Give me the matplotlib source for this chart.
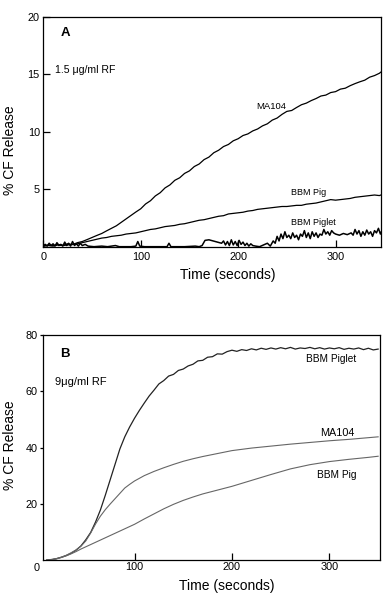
import matplotlib
matplotlib.use("Agg")

import matplotlib.pyplot as plt

plt.rcParams["font.family"] = ["Liberation Sans", "DejaVu Sans"]

# ---- panel A: 1.5 ug/ml RF ----
TIME_A = [0, 5, 10, 15, 20, 25, 30, 35, 40, 45, 50, 55, 60, 65, 70, 75, 80, 85, 90, 95,
          100, 105, 110, 115, 120, 125, 130, 135, 140, 145, 150, 155, 160, 165, 170, 175,
          180, 185, 190, 195, 200, 205, 210, 215, 220, 225, 230, 235, 240, 245, 250, 255,
          260, 265, 270, 275, 280, 285, 290, 295, 300, 305, 310, 315, 320, 325, 330, 335,
          340, 345, 348]
MA104_A = [0.05, 0.15, 0.1, 0.2, 0.12, 0.25, 0.18, 0.35, 0.45, 0.62, 0.8, 0.98, 1.15, 1.38,
           1.6, 1.82, 2.12, 2.42, 2.72, 3.02, 3.3, 3.72, 4.0, 4.42, 4.7, 5.12, 5.38, 5.78,
           6.0, 6.38, 6.6, 6.98, 7.2, 7.58, 7.8, 8.18, 8.4, 8.72, 8.9, 9.22, 9.4, 9.68, 9.82,
           10.08, 10.25, 10.52, 10.7, 11.02, 11.2, 11.52, 11.78, 11.86, 12.12, 12.36, 12.5,
           12.72, 12.9, 13.12, 13.2, 13.42, 13.5, 13.72, 13.8, 14.02, 14.2, 14.36, 14.5,
           14.76, 14.9, 15.1, 15.3]
PIG_A = [0.05, 0.1, 0.05, 0.15, 0.1, 0.15, 0.2, 0.25, 0.35, 0.45, 0.55, 0.65, 0.75, 0.8,
         0.9, 0.95, 1.0, 1.1, 1.15, 1.2, 1.3, 1.4, 1.5, 1.55, 1.65, 1.75, 1.8, 1.85, 1.95,
         2.0, 2.1, 2.2, 2.3, 2.35, 2.45, 2.55, 2.65, 2.7, 2.85, 2.9, 2.95, 3.0, 3.1, 3.15,
         3.25, 3.3, 3.35, 3.4, 3.45, 3.5, 3.5, 3.55, 3.6, 3.6, 3.7, 3.75, 3.8, 3.9, 4.0,
         4.1, 4.05, 4.1, 4.15, 4.2, 4.3, 4.35, 4.4, 4.45, 4.5, 4.45, 4.55]
TIME_PIGLET_A = [0, 2, 4, 6, 8, 10, 12, 14, 16, 18, 20, 22, 24, 26, 28, 30, 32, 34, 36, 38,
                 40, 43, 46, 52, 60, 66, 74, 78, 90, 95, 97, 99, 104, 118, 127, 129, 131,
                 145, 156, 160, 163, 166, 170, 183, 185, 187, 189, 191, 193, 195, 197, 199,
                 201, 203, 205, 207, 209, 211, 213, 215, 218, 222, 226, 230, 233, 236, 238,
                 240, 242, 244, 246, 248, 250, 252, 254, 256, 258, 260, 262, 264, 266, 268,
                 270, 272, 274, 276, 278, 280, 282, 284, 286, 288, 290, 292, 294, 296, 298,
                 300, 304, 308, 312, 316, 318, 320, 322, 324, 326, 328, 330, 332, 334, 336,
                 338, 340, 342, 344, 346, 348]
PIGLET_A = [0.1, 0.2, 0.05, 0.3, 0.1, 0.25, 0.05, 0.35, 0.1, 0.2, 0.05, 0.4, 0.1, 0.3, 0.05,
            0.45, 0.1, 0.25, 0.05, 0.3, 0.1, 0.2, 0.05, 0.0, 0.05, 0.0, 0.1, 0.0, 0.0, 0.05,
            0.45, 0.05, 0.0, 0.0, 0.0, 0.3, 0.0, 0.0, 0.05, 0.0, 0.1, 0.55, 0.6, 0.3, 0.5,
            0.15, 0.45, 0.1, 0.6, 0.15, 0.45, 0.1, 0.55, 0.2, 0.4, 0.1, 0.3, 0.05, 0.25,
            0.1, 0.05, 0.0, 0.15, 0.3, 0.05, 0.5, 0.3, 0.9, 0.5, 1.1, 0.7, 1.3, 0.8, 1.0,
            0.7, 1.2, 0.8, 1.0, 0.6, 1.1, 0.9, 1.4, 0.8, 1.2, 0.7, 1.3, 0.9, 1.2, 0.8, 1.1,
            1.0, 1.5, 1.1, 1.3, 1.0, 1.4, 1.2, 1.1, 1.0, 1.15, 1.05, 1.2, 1.0, 1.5, 1.1,
            1.4, 0.9, 1.3, 1.0, 1.45, 1.1, 1.3, 0.9, 1.4, 1.2, 1.6, 1.1, 1.5]

# ---- panel B: 9 ug/ml RF ----
TIME_B = [10, 15, 20, 25, 30, 35, 40, 45, 50, 55, 60, 65, 70, 75, 80, 85, 90, 95, 100,
          110, 120, 130, 140, 150, 160, 170, 180, 190, 200, 220, 240, 260, 280, 300, 320,
          340, 350]
MA104_B = [0, 0.1, 0.5, 1.0, 1.7, 2.6, 3.6, 4.9, 6.8, 9.6, 12.8, 15.6, 17.9, 19.9, 21.8,
           23.7, 25.6, 26.9, 28.1, 30.0, 31.5, 32.8, 34.0, 35.1, 36.0, 36.8, 37.5, 38.2,
           38.9, 39.8, 40.5, 41.2, 41.8, 42.4, 42.9, 43.5, 43.8]
PIG_B = [0, 0.1, 0.4, 0.9, 1.5, 2.2, 3.0, 3.9, 4.7, 5.5, 6.3, 7.1, 7.9, 8.7, 9.5, 10.3,
         11.1, 11.9, 12.7, 14.6, 16.4, 18.2, 19.8, 21.2, 22.4, 23.5, 24.4, 25.3, 26.2,
         28.3, 30.4, 32.4, 33.9, 35.0, 35.8, 36.5, 36.9]
TIME_PIGLET_B = [10, 15, 20, 25, 30, 35, 40, 45, 50, 55, 60, 65, 70, 75, 80, 85, 90, 95,
                 100, 105, 110, 115, 120, 125, 130, 135, 140, 145, 150, 155, 160, 165, 170,
                 175, 180, 185, 190, 195, 200, 205, 210, 215, 220, 225, 230, 235, 240, 245,
                 250, 255, 260, 265, 270, 275, 280, 285, 290, 295, 300, 305, 310, 315, 320,
                 325, 330, 335, 340, 345, 350]
PIGLET_B = [0, 0.2, 0.5, 1.0, 1.6, 2.4, 3.5, 5.0, 7.2, 9.8, 13.5, 17.8, 23.0, 28.5, 34.0,
            39.5, 43.8, 47.3, 50.4, 53.2, 55.8, 58.3, 60.4, 62.6, 63.8, 65.4, 66.0, 67.4,
            67.9, 69.0, 69.6, 70.8, 71.0, 72.1, 72.3, 73.3, 73.2, 74.1, 74.6, 74.2, 74.8,
            74.5, 75.1, 74.7, 75.3, 74.9, 75.4, 75.0, 75.5, 75.1, 75.6, 75.0, 75.4, 75.2,
            75.6, 75.1, 75.5, 75.0, 75.4, 75.1, 75.5, 74.9, 75.3, 75.0, 75.4, 74.8, 75.3,
            74.7, 75.0]

TICK_FS = 7.8
LABEL_FS = 10


def style_axes(ax):
    for side in ax.spines.values():
        side.set_linewidth(0.9)
    ax.set_xlabel("Time (seconds)", fontsize=LABEL_FS)
    ax.set_ylabel("% CF Release", fontsize=LABEL_FS)
    ax.xaxis.label.set_va("center")
    ax.yaxis.label.set_va("center")


def draw_panel_a(ax):
    ax.plot(TIME_A, MA104_A, color="black", lw=0.9)
    ax.plot(TIME_A, PIG_A, color="black", lw=0.9)
    ax.plot(TIME_PIGLET_A, PIGLET_A, color="black", lw=1.1)

    ax.set_xlim(0, 346.5)
    ax.set_ylim(0, 20)
    ax.set_xticks([0, 100, 200, 300])
    ax.set_yticks([5, 10, 15, 20])
    ax.tick_params(axis="both", direction="in", length=5, width=0.9, labelsize=TICK_FS)
    ax.tick_params(axis="x", pad=4)
    ax.tick_params(axis="y", pad=2.5)
    style_axes(ax)
    ax.xaxis.set_label_coords(0.546, -0.123)
    ax.yaxis.set_label_coords(-0.099, 0.42)

    ax.text(0.05, 0.93, "A", transform=ax.transAxes, fontsize=9.5, fontweight="bold",
            va="center")
    ax.text(0.035, 0.77, "1.5 μg/ml RF", transform=ax.transAxes, fontsize=7.6,
            va="center")
    ax.text(234, 12.2, "MA104", fontsize=6.8, ha="center", va="center")
    ax.text(272, 4.7, "BBM Pig", fontsize=6.5, ha="center", va="center")
    ax.text(277, 2.1, "BBM Piglet", fontsize=6.5, ha="center", va="center")


def draw_panel_b(ax):
    ax.plot(TIME_PIGLET_B, PIGLET_B, color="#222222", lw=0.9)
    ax.plot(TIME_B, MA104_B, color="#666666", lw=0.8)
    ax.plot(TIME_B, PIG_B, color="#666666", lw=0.8)

    ax.set_xlim(6.4, 352)
    ax.set_ylim(0, 80)
    ax.set_xticks([100, 200, 300])
    ax.set_yticks([20, 40, 60, 80])
    ax.tick_params(axis="x", direction="in", length=5, width=0.9, pad=1.5,
                   labelsize=TICK_FS)
    ax.tick_params(axis="y", direction="out", length=2.5, width=0.9, pad=1.5,
                   labelsize=TICK_FS)
    # the "0" of the time axis sits just left of the frame in the original
    ax.text(0, -0.035, "0", transform=ax.get_xaxis_transform(), fontsize=TICK_FS,
            ha="center", va="center", clip_on=False)
    style_axes(ax)
    ax.xaxis.set_label_coords(0.546, -0.116)
    ax.yaxis.set_label_coords(-0.099, 0.511)

    ax.text(0.05, 0.915, "B", transform=ax.transAxes, fontsize=9.5, fontweight="bold",
            va="center")
    ax.text(0.035, 0.79, "9μg/ml RF", transform=ax.transAxes, fontsize=8,
            va="center")
    ax.text(302, 71.6, "BBM Piglet", fontsize=7.3, ha="center", va="center")
    ax.text(308, 45.0, "MA104", fontsize=7.8, ha="center", va="center")
    ax.text(308, 30.3, "BBM Pig", fontsize=7.3, ha="center", va="center")


def main():
    fig = plt.figure(figsize=(3.88, 5.94), dpi=100)
    ax_a = fig.add_axes([0.1116, 0.5847, 0.870, 0.3867])
    ax_b = fig.add_axes([0.1116, 0.0572, 0.868, 0.3788])
    draw_panel_a(ax_a)
    draw_panel_b(ax_b)
    fig.savefig("out.png", dpi=100)
    plt.close(fig)


if __name__ == "__main__":
    main()
